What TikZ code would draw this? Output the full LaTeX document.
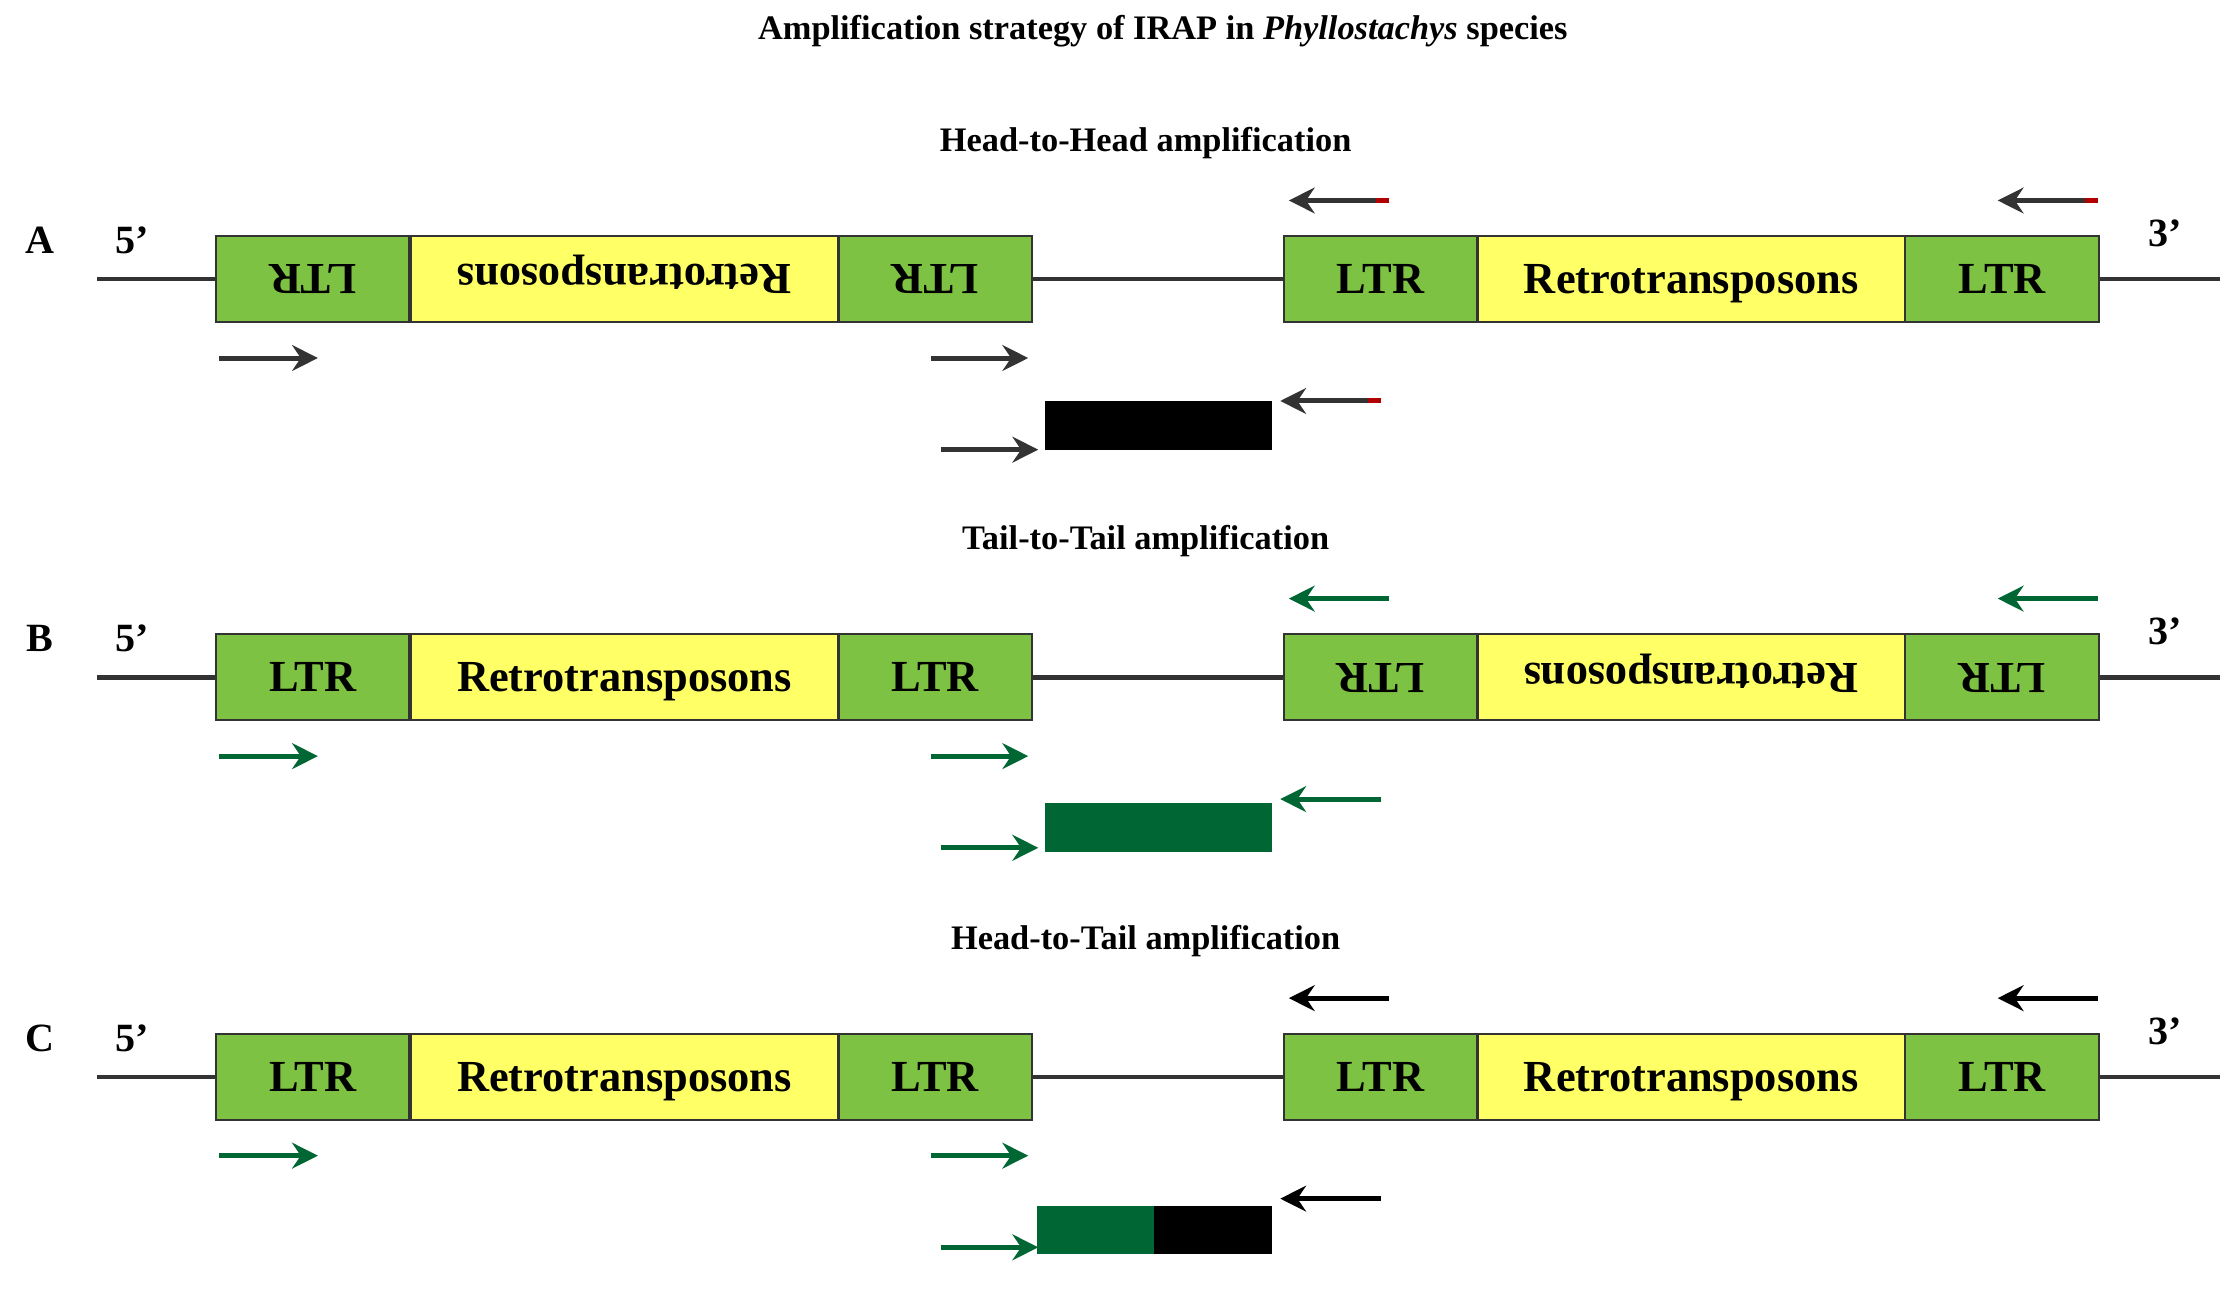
\documentclass[tikz,border=0pt]{standalone}
\usepackage{fontspec}
\setmainfont{Liberation Serif}
\usetikzlibrary{arrows.meta}
\definecolor{ltrg}{HTML}{7DC242}
\definecolor{rety}{HTML}{FFFF66}
\definecolor{dg}{HTML}{006633}
\begin{document}
\begin{tikzpicture}[x=1pt,y=-1pt,
 box/.style={draw=black!80,line width=1.5pt,minimum height=60pt,inner sep=0pt,text height=21pt,text depth=1pt,font=\fontsize{31}{33}\selectfont\bfseries},
 ltr/.style={box,fill=ltrg,minimum width=135pt},
 ret/.style={box,fill=rety,minimum width=298pt},
 ln/.style={line width=3pt,black!80},
 ar/.style={line width=3.5pt,-{Stealth[length=18pt,width=18pt,inset=6pt]}},
 lab/.style={font=\fontsize{28}{30}\selectfont\bfseries},
 ttl/.style={font=\fontsize{24}{26}\selectfont\bfseries}]
\useasboundingbox (0,0) rectangle (1560,901.5);
\node[ttl] (title) at (812,22) {Amplification strategy of IRAP in \textit{Phyllostachys} species};
\foreach \r/\y/\t/\L/\fl/\fr/\lc/\rc in {A/195/Head-to-Head/A/1/0/black!80/black!80, B/473/Tail-to-Tail/B/0/1/dg/dg, C/752/Head-to-Tail/C/0/0/dg/black}{
 \node[ttl] (t\r) at (800,\y-95) {\t\ amplification};
 \coordinate (s\r) at (68,\y); \coordinate (e\r) at (1550,\y);
 \draw[ln] (s\r) -- (e\r);
 \ifnum\fl=1
  \node[ltr,rotate=180] (l1\r) at (218.5,\y) {LTR};
  \node[ret,rotate=180] (r1\r) at (436,\y) {Retrotransposons};
  \node[ltr,rotate=180] (l2\r) at (653,\y) {LTR};
 \else
  \node[ltr] (l1\r) at (218.5,\y) {LTR};
  \node[ret] (r1\r) at (436,\y) {Retrotransposons};
  \node[ltr] (l2\r) at (653,\y) {LTR};
 \fi
 \ifnum\fr=1
  \node[ltr,rotate=180] (l3\r) at (964,\y) {LTR};
  \node[ret,rotate=180] (r2\r) at (1181,\y) {Retrotransposons};
  \node[ltr,rotate=180] (l4\r) at (1398,\y) {LTR};
 \else
  \node[ltr] (l3\r) at (964,\y) {LTR};
  \node[ret] (r2\r) at (1181,\y) {Retrotransposons};
  \node[ltr] (l4\r) at (1398,\y) {LTR};
 \fi
 \node[lab] (n\r) at (28,\y-27) {\L};
 \node[lab] (f\r) at (92,\y-27) {5’};
 \node[lab] (h\r) at (1512,\y-32) {3’};
 \draw[ar,\lc] (153,\y+55) -- (222,\y+55);
 \draw[ar,\lc] (650,\y+55) -- (718,\y+55);
 \draw[ar,\lc] (657,\y+119) -- (725,\y+119);
 \draw[ar,\rc] (970,\y-55) -- (900,\y-55);
 \draw[ar,\rc] (1465,\y-55) -- (1395,\y-55);
 \draw[ar,\rc] (964,\y+85) -- (894,\y+85);
}
\foreach \x/\yy in {970/140,1465/140,964/280}{\draw[line width=3.5pt,red!70!black] (\x,\yy) -- (\x-9,\yy);}
\fill[black] (730,280) rectangle (888,314);
\fill[dg] (730,561) rectangle (888,595);
\fill[dg] (724,842) rectangle (806,876);
\fill[black] (806,842) rectangle (888,876);
\end{tikzpicture}
\end{document}
